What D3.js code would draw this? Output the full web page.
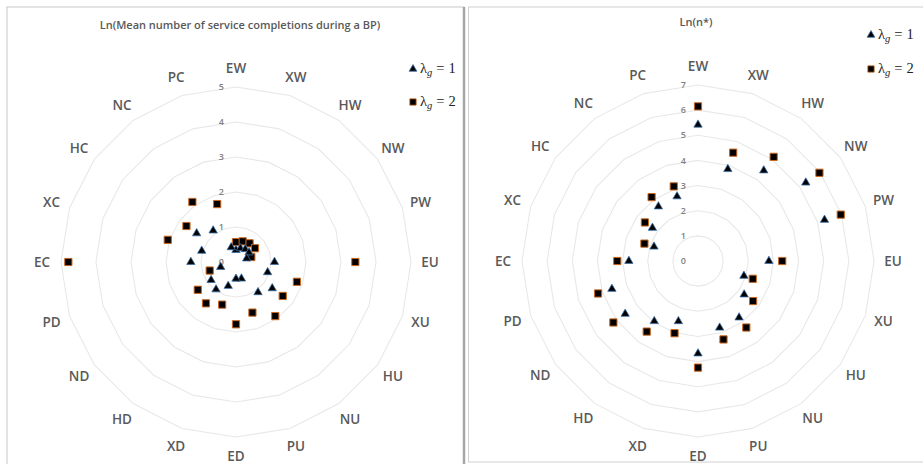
<!DOCTYPE html>
<html>
<head>
<meta charset="utf-8">
<script src="https://cdn.jsdelivr.net/npm/d3@7"></script>
<style>
  body { margin: 0; background: #fff; }
  svg { display: block; }
  .cat { font-family: "Open Sans", sans-serif; font-weight: 600; font-size: 13.5px; fill: #595959; }
  .tick { font-family: "Open Sans", sans-serif; font-weight: 600; font-size: 9px; fill: #808080; }
  .title { font-family: "Open Sans", sans-serif; font-weight: 600; font-size: 11px; fill: #595959; }
  .leg { font-family: "Liberation Serif", serif; font-size: 14.5px; fill: #222; }
</style>
</head>
<body>
<svg width="923" height="464"></svg>
<script>
// spokes, clockwise from the top
const categories = ["EW","XW","HW","NW","PW","EU","XU","HU","NU","PU",
                    "ED","XD","HD","ND","PD","EC","XC","HC","NC","PC"];

// left chart: Ln(mean number of service completions during a BP)
const completionsL1 = [0.34,0.41,0.45,0.46,0.32,1.10,0.95,1.28,1.07,0.50,
                       0.48,0.72,0.97,0.88,0.46,1.29,1.03,1.39,1.11,0.44];
const completionsL2 = [0.57,0.62,0.66,0.67,0.46,3.41,1.83,1.65,1.91,1.52,
                       1.78,1.28,1.46,1.35,0.79,4.79,2.05,1.75,2.12,1.74];
const completionsTicks = [0,1,2,3,4,5];

// right chart: Ln(n*)
const nStarL1 = [5.42,3.84,4.45,5.30,5.29,2.82,1.92,2.27,2.78,2.79,
                 3.68,2.52,2.96,3.58,3.60,2.75,1.84,2.24,2.68,2.70];
const nStarL2 = [6.15,4.53,5.12,5.97,5.97,3.35,2.29,2.71,3.27,3.28,
                 4.24,3.02,3.47,4.16,4.18,3.21,2.24,2.61,3.14,3.12];
const nStarTicks = [0,1,2,3,4,5,6,7];

const seriesNames = ["1","2"];

const svg = d3.select("svg");

// panel frames
svg.append("rect").attr("x",7).attr("y",7).attr("width",457).attr("height",470)
  .attr("fill","none").attr("stroke","#c8c8c8").attr("stroke-width",1);
svg.append("line").attr("x1",464).attr("x2",464).attr("y1",7).attr("y2",464)
  .attr("stroke","#a6a6a6").attr("stroke-width",2.5);
svg.append("rect").attr("x",468.5).attr("y",7).attr("width",470).attr("height",455)
  .attr("fill","none").attr("stroke","#d0d0d0").attr("stroke-width",1);

const angle = d3.scaleLinear()
  .domain([0, categories.length])
  .range([0, 2 * Math.PI]);

function radar(opt){
  const g = svg.append("g")
    .attr("transform",`translate(${opt.cx},${opt.cy})`);

  const r = d3.scaleLinear()
    .domain(d3.extent(opt.ticks))
    .range([0, opt.radius]);

  const ring = d3.lineRadial()
    .angle((d,i) => angle(i))
    .radius(d => r(d))
    .curve(d3.curveLinearClosed);

  g.append("g")
    .selectAll("path")
    .data(opt.ticks.slice(1))
    .enter().append("path")
    .attr("d", t => ring(categories.map(() => t)))
    .attr("fill","none")
    .attr("stroke","#e8e8e8")
    .attr("stroke-width",1.1);

  g.append("g")
    .selectAll("text")
    .data(opt.ticks)
    .enter().append("text")
    .attr("class","tick")
    .attr("x",-12)
    .attr("y",d => -r(d))
    .attr("dy","0.35em")
    .attr("text-anchor","end")
    .text(d => d);

  g.append("g")
    .selectAll("text")
    .data(categories)
    .enter().append("text")
    .attr("class","cat")
    .attr("x",(d,i) => Math.sin(angle(i)) * (opt.radius + 19))
    .attr("y",(d,i) => -Math.cos(angle(i)) * (opt.radius + 19))
    .attr("dy","0.35em")
    .attr("text-anchor","middle")
    .text(d => d);

  const tri = d3.symbol(d3.symbolTriangle, 30);
  const sq = d3.symbol(d3.symbolSquare, 52);

  g.append("g")
    .selectAll("path")
    .data(opt.s2)
    .enter().append("path")
    .attr("d",sq)
    .attr("transform",(d,i) => `translate(${Math.sin(angle(i))*r(d)},${-Math.cos(angle(i))*r(d)})`)
    .attr("fill","#000")
    .attr("stroke","#c9661e")
    .attr("stroke-width",1);

  g.append("g")
    .selectAll("path")
    .data(opt.s1)
    .enter().append("path")
    .attr("d",tri)
    .attr("transform",(d,i) => `translate(${Math.sin(angle(i))*r(d)},${-Math.cos(angle(i))*r(d)})`)
    .attr("fill","#000")
    .attr("stroke","#3a6fa8")
    .attr("stroke-width",0.8);

  svg.append("text")
    .attr("class","title")
    .attr("x",opt.titleX)
    .attr("y",opt.titleY)
    .attr("text-anchor","middle")
    .text(opt.title);

  // legend
  const leg = svg.append("g")
    .selectAll("g")
    .data(seriesNames)
    .enter().append("g")
    .attr("transform",(d,i) => `translate(${opt.legX},${opt.legY + i*opt.legGap})`);

  leg.append("path")
    .attr("d",(d,i) => i ? d3.symbol(d3.symbolSquare, 40)() : d3.symbol(d3.symbolTriangle, 26)())
    .attr("fill","#000")
    .attr("stroke",(d,i) => i ? "#c9661e" : "#3a6fa8")
    .attr("stroke-width",0.8);

  const t = leg.append("text")
    .attr("class","leg")
    .attr("x",7)
    .attr("dy","0.3em");
  t.append("tspan").text("λ");
  t.append("tspan").attr("font-style","italic").attr("font-size","10.5px").attr("dy","3").text("g");
  t.append("tspan").attr("dy","-3").attr("dx","4").text("=");
  t.append("tspan").attr("dx","4").text(d => d);
}

radar({
  cx:236, cy:262, radius:175, ticks:completionsTicks,
  s1:completionsL1, s2:completionsL2,
  title:"Ln(Mean number of service completions during a BP)", titleX:240, titleY:29,
  legX:413, legY:69, legGap:33
});

radar({
  cx:698, cy:261, radius:176, ticks:nStarTicks,
  s1:nStarL1, s2:nStarL2,
  title:"Ln(n*)", titleX:696, titleY:26,
  legX:871, legY:35, legGap:34
});
</script>
</body>
</html>
